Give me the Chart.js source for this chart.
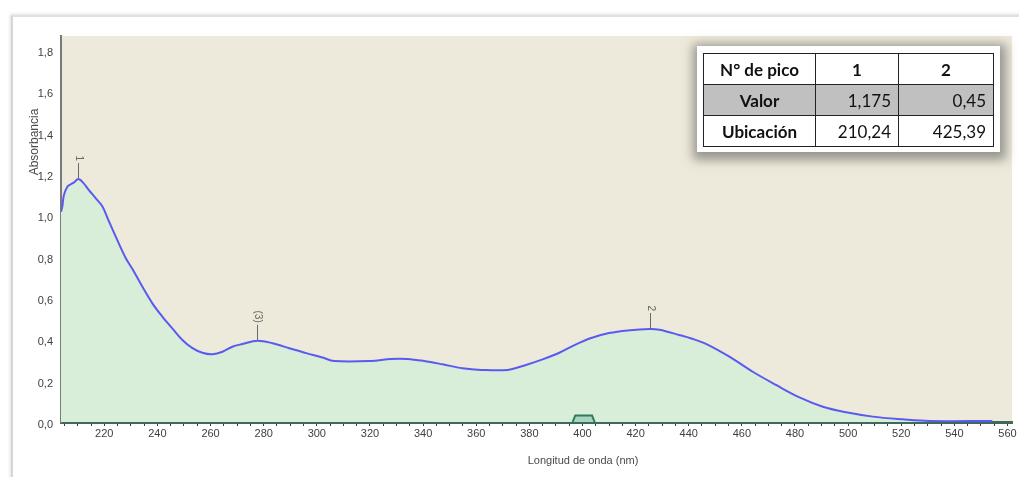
<!DOCTYPE html>
<html lang="es">
<head>
<meta charset="utf-8">
<title>Espectro de absorción</title>
<script src="https://cdn.jsdelivr.net/npm/chart.js@4.4.1/dist/chart.umd.min.js"></script>
<style>
  html, body { margin: 0; padding: 0; background: #fff; overflow: hidden; }
  .frame {
    position: absolute; left: 11px; top: 15px; width: 1030px; height: 480px;
    border-left: 2px solid #d6d6d6; border-top: 2px solid #e0e0e0;
    box-shadow: -1px -1px 3px rgba(0,0,0,0.12);
  }
  .wrap { position: absolute; left: 0; top: 0; width: 1019px; height: 477px; }
  .peaks {
    position: absolute; left: 697px; top: 46px;
    background: #fff; padding: 7px 6px 5px 6px;
    box-shadow: 1px 3px 10px 5px rgba(80,80,80,0.55);
  }
  .peaks table { border-collapse: collapse; font-family: Lato, "Open Sans", sans-serif; font-size: 17px; color: #111; }
  .peaks td { border: 1px solid #222; height: 30px; padding: 0 7px; }
  .peaks td.h { font-weight: bold; text-align: center; }
  .peaks td.v { text-align: right; }
  .peaks tr.grey td { background: #c0c0c0; }
</style>
</head>
<body>
<div class="frame"></div>
<div class="wrap"><canvas id="spectrum"></canvas></div>
<div class="peaks" id="peakTable"></div>

<script>
// Absorption spectrum (nm vs absorbance)
const wavelength = [
  203.7, 204.2, 204.8, 206.1, 207.4, 208.5, 210.24, 212.0, 214.2, 216.8,
  219.3, 221.8, 224.9, 228.1, 230.6, 234.3, 238.1, 241.9, 245.6, 249.4,
  253.2, 256.9, 260.7, 264.5, 268.2, 272.0, 277.6, 283.3, 289.6, 296.0,
  302.1, 306.5, 320.3, 327.9, 334.1, 340.4, 347.3, 354.8, 361.8, 371.8,
  378.7, 385.0, 391.3, 397.0, 403.0, 410.0, 417.0, 425.39, 429.0, 436.4,
  441.0, 446.5, 455.3, 464.1, 472.9, 481.7, 490.5, 499.3, 509.3, 520.6,
  530.6, 554.3
];
const absorbance = [
  1.017, 1.042, 1.098, 1.138, 1.150, 1.158, 1.175, 1.158, 1.122, 1.082,
  1.042, 0.969, 0.880, 0.792, 0.740, 0.655, 0.574, 0.509, 0.453, 0.397,
  0.357, 0.335, 0.328, 0.340, 0.364, 0.377, 0.393, 0.381, 0.357, 0.333,
  0.312, 0.295, 0.295, 0.305, 0.305, 0.295, 0.279, 0.260, 0.252, 0.252,
  0.276, 0.303, 0.335, 0.372, 0.405, 0.430, 0.443, 0.450, 0.446, 0.421,
  0.404, 0.378, 0.316, 0.243, 0.179, 0.119, 0.074, 0.047, 0.026, 0.013,
  0.005, 0.005
];

// small selection marker sitting on the baseline around 400 nm
const selX = [396.3, 397.3, 403.6, 404.6];
const selY = [0, 0.032, 0.032, 0];

// peak table
const peakNumbers = ['1', '2'];
const peakValues = [1.175, 0.45];
const peakLocations = [210.24, 425.39];

// peak flags drawn on the curve (table peaks + shoulder peak 3)
const flagLabels = ['1', '2', '(3)'];
const flagX = [peakLocations[0], peakLocations[1], 277.6];
const flagY = [peakValues[0], peakValues[1], 0.393];

// axis ticks
const yTickValues = [0, 0.2, 0.4, 0.6, 0.8, 1.0, 1.2, 1.4, 1.6, 1.8];
const xTickValues = [220, 240, 260, 280, 300, 320, 340, 360, 380, 400, 420, 440, 460, 480, 500, 520, 540, 560];

const comma = v => String(v).replace('.', ',');

// ---- peak table ----
(function buildTable() {
  let html = '<table><colgroup><col style="width:112px"><col style="width:83px"><col style="width:95px"></colgroup>';
  html += '<tr><td class="h">N° de pico</td>' + peakNumbers.map(n => '<td class="h">' + n + '</td>').join('') + '</tr>';
  html += '<tr class="grey"><td class="h">Valor</td>' + peakValues.map(v => '<td class="v">' + comma(v) + '</td>').join('') + '</tr>';
  html += '<tr><td class="h">Ubicación</td>' + peakLocations.map(v => '<td class="v">' + comma(v) + '</td>').join('') + '</tr>';
  html += '</table>';
  document.getElementById('peakTable').innerHTML = html;
})();

// plot background
const plotBackground = {
  id: 'plotBackground',
  beforeDraw(chart) {
    const { ctx, chartArea: a } = chart;
    ctx.save();
    ctx.fillStyle = '#eeeadb';
    ctx.fillRect(a.left, a.top, a.right - a.left, a.bottom - a.top);
    ctx.restore();
  }
};

// flags over the peaks
const peakFlags = {
  id: 'peakFlags',
  afterDatasetsDraw(chart) {
    const { ctx, scales: { x, y } } = chart;
    ctx.save();
    ctx.strokeStyle = '#6a6a6a';
    ctx.fillStyle = '#666';
    ctx.lineWidth = 1;
    ctx.font = '10px "Liberation Sans", Arial, sans-serif';
    flagX.forEach((nm, i) => {
      const px = Math.round(x.getPixelForValue(nm)) + 0.5;
      const py = y.getPixelForValue(flagY[i]);
      ctx.beginPath();
      ctx.moveTo(px, py - 1);
      ctx.lineTo(px, py - 16);
      ctx.stroke();
      ctx.save();
      ctx.translate(px, py - 18);
      ctx.rotate(Math.PI / 2);
      ctx.textAlign = 'right';
      ctx.textBaseline = 'middle';
      ctx.fillText(flagLabels[i], 0, 0);
      ctx.restore();
    });
    ctx.restore();
  }
};

// axis titles
const axisTitles = {
  id: 'axisTitles',
  afterDraw(chart) {
    const { ctx } = chart;
    ctx.save();
    ctx.fillStyle = '#4a4a4a';
    ctx.font = '11px "Liberation Sans", Arial, sans-serif';
    ctx.textAlign = 'center';
    ctx.textBaseline = 'middle';
    ctx.fillText('Longitud de onda (nm)', 583, 461);
    ctx.translate(35, 142);
    ctx.rotate(-Math.PI / 2);
    ctx.font = '12px "Liberation Sans", Arial, sans-serif';
    ctx.fillText('Absorbancia', 0, 0);
    ctx.restore();
  }
};

new Chart(document.getElementById('spectrum'), {
  type: 'line',
  data: {
    datasets: [
      {
        label: 'Absorbancia',
        data: wavelength.map((nm, i) => ({ x: nm, y: absorbance[i] })),
        borderColor: '#5a5af0',
        backgroundColor: '#d9eed9',
        borderWidth: 2,
        fill: 'start',
        pointRadius: 0,
        tension: 0.35,
        order: 1
      },
      {
        label: 'selección',
        data: selX.map((nm, i) => ({ x: nm, y: selY[i] })),
        borderColor: '#2f7a5e',
        backgroundColor: '#a6d6be',
        borderWidth: 2,
        fill: 'start',
        pointRadius: 0,
        tension: 0,
        order: 0
      }
    ]
  },
  options: {
    responsive: true,
    maintainAspectRatio: false,
    animation: false,
    layout: { padding: { left: 0, top: 36, right: 7, bottom: 0 } },
    plugins: {
      legend: { display: false },
      tooltip: { enabled: false }
    },
    scales: {
      x: {
        type: 'linear',
        min: 203.7,
        max: 561.7,
        afterFit: s => { s.height = 55; },
        afterBuildTicks: s => {
          const t = [];
          for (let v = 205; v <= 560; v += 5) t.push({ value: v });
          s.ticks = t;
        },
        border: { display: true, color: '#3c6a5b', width: 3 },
        grid: { drawOnChartArea: false, drawTicks: true, tickLength: 4, tickColor: '#3a3a3a', tickWidth: 1 },
        ticks: {
          autoSkip: false,
          maxRotation: 0,
          padding: 1,
          color: '#404040',
          font: { family: '"Liberation Sans", Arial, sans-serif', size: 11 },
          callback: v => xTickValues.includes(v) ? String(v) : ''
        }
      },
      y: {
        min: 0,
        max: 1.867,
        afterFit: s => { s.width = 61; },
        afterBuildTicks: s => { s.ticks = yTickValues.map(v => ({ value: v })); },
        border: { display: true, color: '#7a7a7a', width: 2 },
        grid: { display: false, drawTicks: false },
        ticks: {
          padding: 8,
          labelOffset: 3,
          color: '#404040',
          font: { family: '"Liberation Sans", Arial, sans-serif', size: 11 },
          callback: v => v.toFixed(1).replace('.', ',')
        }
      }
    }
  },
  plugins: [plotBackground, peakFlags, axisTitles]
});
</script>
</body>
</html>
